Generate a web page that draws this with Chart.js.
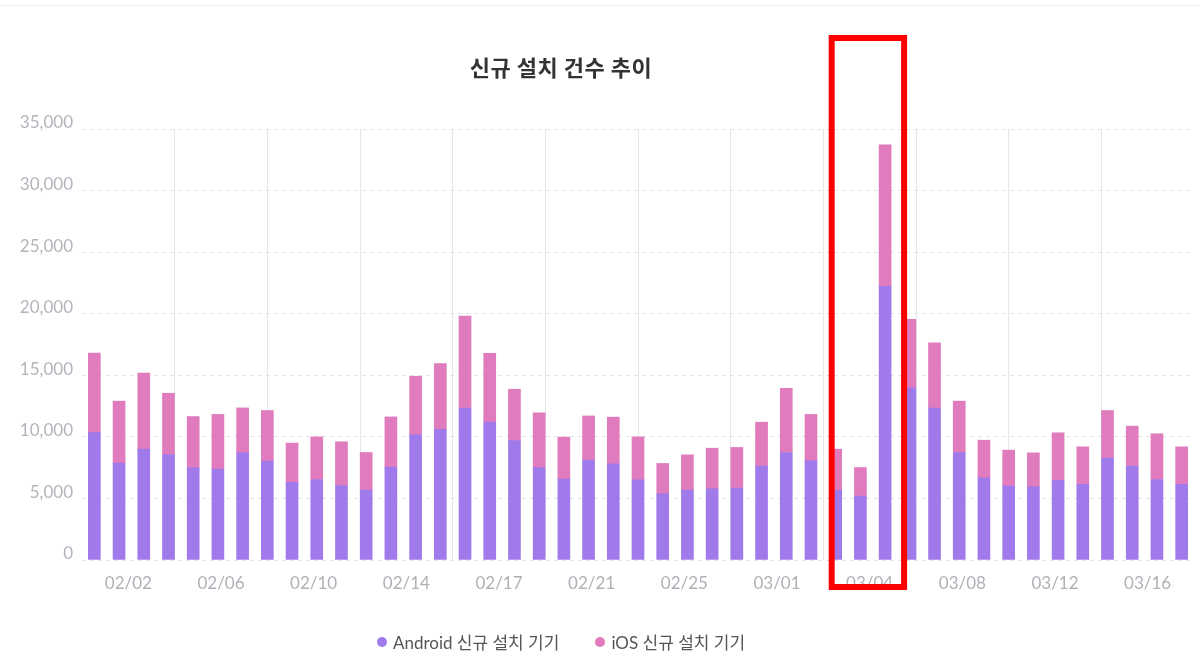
<!DOCTYPE html>
<html>
<head>
<meta charset="utf-8">
<script src="https://cdn.jsdelivr.net/npm/chart.js@4/dist/chart.umd.min.js"></script>
<style>
  html, body { margin: 0; padding: 0; background: #fff; }
  #wrap { position: relative; width: 1200px; height: 657px; }
  #topline { position: absolute; left: 0; right: 0; top: 5px; border-top: 1px solid #efeff2; }
  #title { position: absolute; left: 0; width: 1122px; top: 50px; text-align: center;
    font-family: "Noto Sans CJK KR", Lato, sans-serif; font-size: 22px; font-weight: 700; color: #333;
    letter-spacing: 0.5px; }
  #legend { position: absolute; left: 0; width: 1122px; top: 629px; display: flex; justify-content: center;
    font-family: Lato, "Noto Sans CJK KR", sans-serif; font-size: 17px; color: #555; }
  #legend span { display: inline-flex; align-items: center; margin: 0 18px; }
  #legend i { display: inline-block; width: 10px; height: 10px; border-radius: 50%; margin-right: 6px; }
</style>
</head>
<body>
<div id="wrap">
  <div id="topline"></div>
  <canvas id="myChart" width="1200" height="657"></canvas>
  <div id="title">신규 설치 건수 추이</div>
  <div id="legend"></div>
</div>
<script>
const dates = ['02/01','02/02','02/03','02/04','02/05','02/06','02/07','02/08','02/09','02/10',
  '02/11','02/12','02/13','02/14','02/15','02/16','02/17','02/18','02/19','02/20',
  '02/21','02/22','02/23','02/24','02/25','02/26','02/27','02/28','02/29','03/01',
  '03/02','03/03','03/04','03/05','03/06','03/07','03/08','03/09','03/10','03/11',
  '03/12','03/13','03/14','03/15','03/16'];

const tickLabels = ['02/02','02/06','02/10','02/14','02/17','02/21','02/25','03/01','03/04','03/08','03/12','03/16'];

const android = [10350, 7870, 9000, 8570, 7490, 7380, 8700, 8030, 6300, 6540,
  6050, 5680, 7540, 10160, 10620, 12330, 11190, 9700, 7500, 6570,
  8110, 7810, 6510, 5380, 5680, 5780, 5840, 7620, 8730, 8050,
  5650, 5190, 22220, 13980, 12330, 8730, 6680, 6000, 5950, 6460,
  6140, 8270, 7620, 6540, 6140];

const ios = [6450, 5030, 6170, 4970, 4160, 4440, 3650, 4110, 3190, 3460,
  3550, 3050, 4080, 4760, 5330, 7480, 5600, 4170, 4450, 3410,
  3590, 3790, 3490, 2460, 2860, 3300, 3300, 3570, 5220, 3770,
  3350, 2320, 11490, 5570, 5300, 4170, 3050, 2920, 2750, 3870,
  3050, 3870, 3250, 3710, 3050];

const seriesNames = ['Android 신규 설치 기기', 'iOS 신규 설치 기기'];
const seriesColors = ['#a07aea', '#e07bbd'];

// first and last index of the highlighted days (03/02 ~ 03/04)
const highlight = [30, 32];

const tickFont = { family: 'Lato, "Noto Sans CJK KR", sans-serif', size: 17 };

const highlightBox = {
  id: 'highlightBox',
  afterDraw(chart) {
    const { ctx, chartArea, scales } = chart;
    const x1 = scales.x.getPixelForValue(highlight[0]) - 4;
    const x2 = scales.x.getPixelForValue(highlight[1]) + 19;
    ctx.save();
    ctx.strokeStyle = '#ff0000';
    ctx.lineWidth = 6;
    ctx.strokeRect(x1, chartArea.top - 91, x2 - x1, chartArea.bottom - chartArea.top + 118);
    ctx.restore();
  }
};

const ctx = document.getElementById('myChart').getContext('2d');
new Chart(ctx, {
  type: 'bar',
  data: {
    labels: dates,
    datasets: [
      { label: seriesNames[0], data: android, backgroundColor: seriesColors[0], barThickness: 12 },
      { label: seriesNames[1], data: ios, backgroundColor: seriesColors[1], barThickness: 12 }
    ]
  },
  options: {
    responsive: false,
    animation: false,
    layout: { padding: { top: 129, right: 6, bottom: 57, left: 0 } },
    plugins: { legend: { display: false }, title: { display: false }, tooltip: { enabled: false } },
    scales: {
      x: { stacked: true, display: false },
      x2: {
        type: 'category',
        labels: tickLabels,
        position: 'bottom',
        offset: true,
        grid: {
          offset: true,
          drawTicks: false,
          color: (c) => (c.index === 0 || c.index === undefined) ? 'rgba(0,0,0,0)' : '#e5e5ec'
        },
        border: { display: false },
        ticks: { color: '#b0b0b8', font: tickFont, padding: 13, maxRotation: 0, autoSkip: false },
        afterFit: (s) => { s.height = 40; }
      },
      y: {
        stacked: true,
        min: 0,
        max: 35000,
        grid: { color: '#e3e3e8', drawTicks: false },
        border: { display: false, dash: [4, 4] },
        ticks: { stepSize: 5000, color: '#b4b4bc', font: tickFont, padding: 9, labelOffset: -6 },
        afterFit: (s) => { s.width = 82; }
      }
    }
  },
  plugins: [highlightBox]
});

const legend = document.getElementById('legend');
seriesNames.forEach((name, i) => {
  const item = document.createElement('span');
  item.innerHTML = '<i style="background:' + seriesColors[i] + '"></i>' + name;
  legend.appendChild(item);
});
</script>
</body>
</html>
